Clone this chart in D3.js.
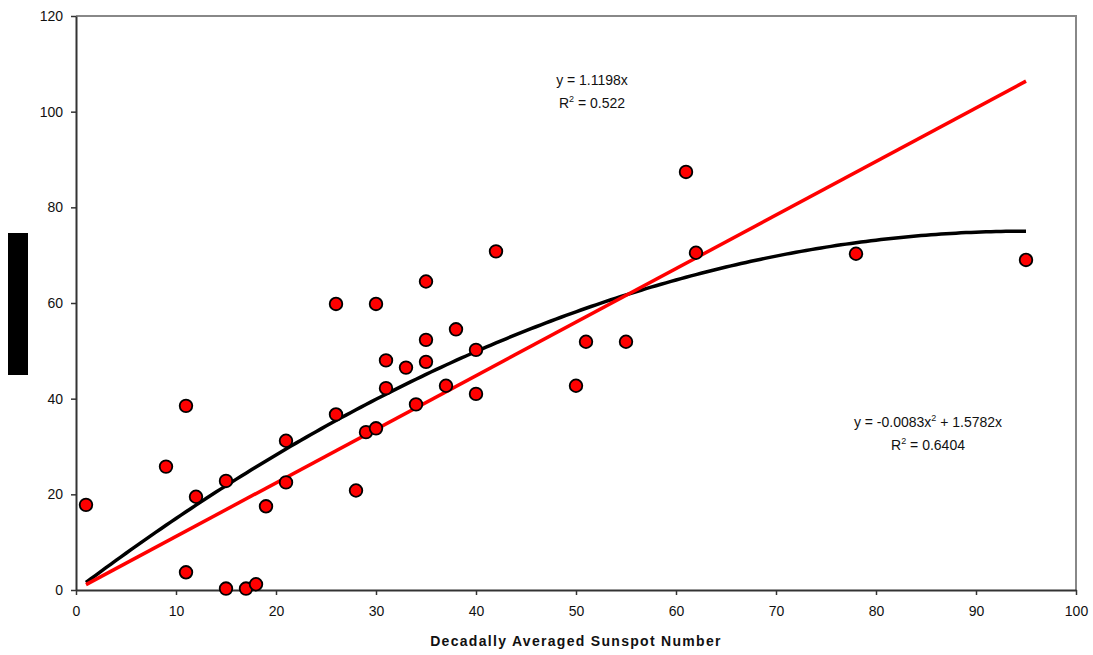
<!DOCTYPE html>
<html>
<head>
<meta charset="utf-8">
<script src="https://cdn.jsdelivr.net/npm/d3@7"></script>
<style>
  body { margin: 0; background: #fff; }
  text { font-family: "Liberation Sans", Arial, sans-serif; }
</style>
</head>
<body>
<div id="chart"></div>
<script>
// Sunspot data
var sunspotX = [1, 9, 11, 11, 12, 15, 15, 17, 18, 19, 21, 21, 26, 26, 28, 29, 30, 30, 31, 31,
                33, 34, 35, 35, 35, 37, 38, 40, 40, 42, 50, 51, 55, 61, 62, 78, 95];
var valueY   = [17.8, 25.8, 38.5, 3.7, 19.5, 22.8, 0.3, 0.3, 1.2, 17.5, 31.2, 22.5, 59.8, 36.7, 20.8, 33.0, 59.8, 33.8, 48.0, 42.2,
                46.5, 38.8, 64.5, 52.3, 47.7, 42.7, 54.5, 50.2, 41.0, 70.8, 42.7, 51.9, 51.9, 87.4, 70.5, 70.3, 69.0];

// trendline coefficients as printed on the chart
var linCoef  = [1.1198];          // y = a x
var quadCoef = [-0.0083, 1.5782]; // y = a x^2 + b x
var linLabel  = ["y = 1.1198x", "R2 = 0.522"];
var quadLabel = ["y = -0.0083x2 + 1.5782x", "R2 = 0.6404"];

var xTicks = [0, 10, 20, 30, 40, 50, 60, 70, 80, 90, 100];
var yTicks = [0, 20, 40, 60, 80, 100, 120];

var W = 1093, H = 655;
var m = { left: 76, top: 16, right: 1076, bottom: 590 };

var svg = d3.select("#chart")
  .append("svg")
  .attr("width", W)
  .attr("height", H);

var x = d3.scaleLinear().domain([0, 100]).range([m.left, m.right]);
var y = d3.scaleLinear().domain([0, 120]).range([m.bottom, m.top]);

// frame top / right (grey)
svg.append("path")
  .attr("d", "M" + m.left + "," + m.top + "H" + m.right + "V" + m.bottom)
  .style("fill", "none")
  .style("stroke", "#888")
  .style("stroke-width", "2px");

// axes
var xAxis = svg.append("g")
  .attr("transform", "translate(0," + m.bottom + ")")
  .call(d3.axisBottom(x).tickValues(xTicks).tickSize(5).tickSizeOuter(0).tickPadding(8));
var yAxis = svg.append("g")
  .attr("transform", "translate(" + m.left + ",0)")
  .call(d3.axisLeft(y).tickValues(yTicks).tickSize(5).tickSizeOuter(0).tickPadding(8));

[xAxis, yAxis].forEach(function(g) {
  g.select(".domain").style("stroke", "#333").style("stroke-width", "2px");
  g.selectAll(".tick line").style("stroke", "#333").style("stroke-width", "1.5px");
  g.selectAll(".tick text")
    .style("font-family", "'Liberation Sans', Arial, sans-serif")
    .style("font-size", "14px")
    .style("fill", "#111");
});
xAxis.selectAll(".tick text").attr("dy", "0.9em");

// left black block
svg.append("rect")
  .attr("x", 8).attr("y", 233)
  .attr("width", 20).attr("height", 142)
  .style("fill", "#000");

// axis title
svg.append("text")
  .attr("x", x(50))
  .attr("y", 646)
  .attr("text-anchor", "middle")
  .attr("font-size", "14px")
  .attr("font-weight", "bold")
  .attr("letter-spacing", "1.3px")
  .style("fill", "#111")
  .text("Decadally Averaged Sunspot Number");

// trendlines
var xs = d3.range(1, 95.01, 0.5);
var line = d3.line()
  .x(function(d) { return x(d[0]); })
  .y(function(d) { return y(d[1]); });

svg.append("path")
  .datum(xs.map(function(v) { return [v, quadCoef[0] * v * v + quadCoef[1] * v]; }))
  .attr("d", line)
  .style("fill", "none")
  .style("stroke", "#000")
  .style("stroke-width", "3.5px");

svg.append("path")
  .datum([[1, linCoef[0] * 1], [95, linCoef[0] * 95]])
  .attr("d", line)
  .style("fill", "none")
  .style("stroke", "#f00")
  .style("stroke-width", "3.5px");

// points
svg.selectAll("circle.pt")
  .data(sunspotX)
  .enter()
  .append("circle")
  .attr("class", "pt")
  .attr("cx", function(d) { return x(d); })
  .attr("cy", function(d, i) { return y(valueY[i]); })
  .attr("r", 6.3)
  .style("fill", "#f00")
  .style("stroke", "#000")
  .style("stroke-width", "1.8px");

// equation labels
function eqLabel(lines, cx, cy) {
  var t = svg.append("text")
    .attr("text-anchor", "middle")
    .attr("font-size", "14px")
    .style("fill", "#111");
  lines.forEach(function(s, i) {
    var tl = t.append("tspan").attr("x", cx).attr("y", cy + i * 23);
    var parts = s.split("2");
    // superscript the "2" that follows R or x
    var idx = s.search(/[Rx]2/);
    if (idx >= 0) {
      tl.append("tspan").text(s.slice(0, idx + 1));
      tl.append("tspan").attr("dy", "-6").attr("font-size", "9px").text("2");
      tl.append("tspan").attr("dy", "6").text(s.slice(idx + 2));
    } else {
      tl.text(s);
    }
  });
}
eqLabel(linLabel, 592, 85);
eqLabel(quadLabel, 928, 427);
</script>
</body>
</html>
